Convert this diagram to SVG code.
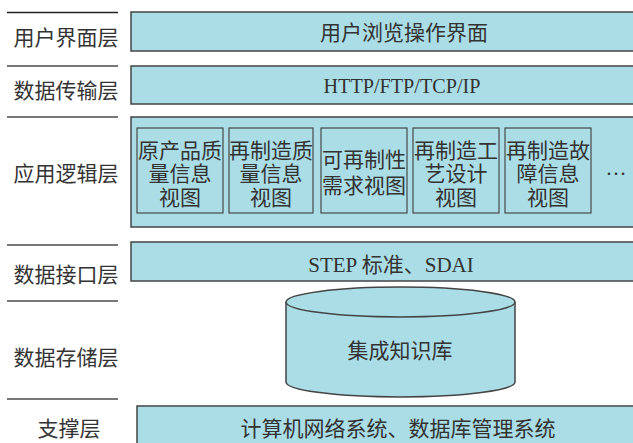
<svg xmlns="http://www.w3.org/2000/svg" width="633" height="443" viewBox="0 0 633 443">
<style>
.bg{fill:#ffffff}
.layer{fill:#ABDDE6;stroke:#444;stroke-width:1.5}
.inner{fill:#ABDDE6;stroke:#4a4a4a;stroke-width:1.2}
.sep{stroke:#777;stroke-width:2}
.cjk{font-family:"Noto Sans CJK SC","Noto Sans",sans-serif;font-size:21px;fill:#333;text-anchor:middle}
.lat{font-family:"Liberation Serif","Noto Sans CJK SC",serif;font-size:21px;fill:#333;text-anchor:middle}
</style>
<rect class="bg" x="0" y="0" width="633" height="443"/>
<g id="separators">
<line x1="7" y1="12.5" x2="118" y2="12.5" stroke="#222" stroke-width="1.5"/>
<line class="sep" x1="7" y1="66" x2="118" y2="66"/>
<line class="sep" x1="7" y1="117" x2="118" y2="117"/>
<line class="sep" x1="7" y1="245" x2="118" y2="245"/>
<line class="sep" x1="7" y1="301" x2="118" y2="301"/>
<line class="sep" x1="7" y1="399" x2="118" y2="399"/>
</g>
<g id="labels">
<text class="cjk" x="66" y="45">用户界面层</text>
<text class="cjk" x="66" y="98">数据传输层</text>
<text class="cjk" x="66" y="181">应用逻辑层</text>
<text class="cjk" x="66" y="282">数据接口层</text>
<text class="cjk" x="66" y="365">数据存储层</text>
<text class="cjk" x="69" y="436">支撑层</text>
</g>
<g id="ui-layer">
<rect class="layer" x="131" y="12" width="520" height="39"/>
<text class="cjk" x="404" y="40">用户浏览操作界面</text>
</g>
<g id="transport-layer">
<rect class="layer" x="131" y="66" width="520" height="38"/>
<text class="lat" x="402" y="93" textLength="157" lengthAdjust="spacingAndGlyphs">HTTP/FTP/TCP/IP</text>
</g>
<g id="app-layer">
<rect class="layer" x="131" y="117" width="520" height="110"/>
</g>
<g id="view1">
<rect class="inner" x="137" y="128" width="86" height="85"/>
<text class="cjk" x="180" y="158">原产品质</text>
<text class="cjk" x="180" y="181">量信息</text>
<text class="cjk" x="180" y="205">视图</text>
</g>
<g id="view2">
<rect class="inner" x="229" y="128" width="84" height="85"/>
<text class="cjk" x="271" y="158">再制造质</text>
<text class="cjk" x="271" y="181">量信息</text>
<text class="cjk" x="271" y="205">视图</text>
</g>
<g id="view3">
<rect class="inner" x="321" y="128" width="86" height="85"/>
<text class="cjk" x="364" y="167">可再制性</text>
<text class="cjk" x="364" y="193">需求视图</text>
</g>
<g id="view4">
<rect class="inner" x="413" y="128" width="86" height="85"/>
<text class="cjk" x="456" y="158">再制造工</text>
<text class="cjk" x="456" y="181">艺设计</text>
<text class="cjk" x="456" y="205">视图</text>
</g>
<g id="view5">
<rect class="inner" x="505" y="128" width="86" height="85"/>
<text class="cjk" x="548" y="158">再制造故</text>
<text class="cjk" x="548" y="181">障信息</text>
<text class="cjk" x="548" y="205">视图</text>
</g>
<g id="more">
<text class="lat" x="616" y="175">…</text>
</g>
<g id="interface-layer">
<rect class="layer" x="131" y="242" width="520" height="39"/>
<text class="cjk" x="391" y="272"><tspan font-family="Liberation Serif, serif">STEP </tspan>标准、<tspan font-family="Liberation Serif, serif">SDAI</tspan></text>
</g>
<g id="knowledge-base">
<path class="layer" d="M286,302 L286,382 A114.5,15 0 0 0 515,382 L515,302"/>
<ellipse class="layer" cx="400.5" cy="302" rx="114.5" ry="15"/>
<text class="cjk" x="400" y="358">集成知识库</text>
</g>
<g id="support-layer">
<rect class="layer" x="137" y="406" width="520" height="50"/>
<text class="cjk" x="398" y="436">计算机网络系统、数据库管理系统</text>
</g>
<g id="connectors"></g>
</svg>
